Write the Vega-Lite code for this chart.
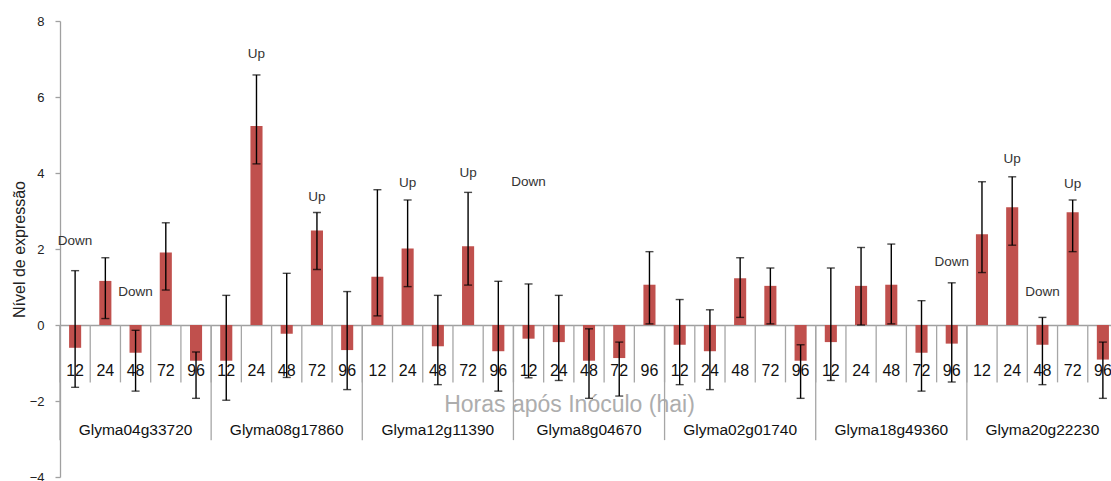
{
  "$schema": "https://vega.github.io/schema/vega-lite/v6.json",
  "width": 1051,
  "height": 456,
  "autosize": {"type": "none"},
  "padding": {"left": 60, "top": 21, "right": 0, "bottom": 4},
  "background": "white",
  "config": {"view": {"stroke": null}, "font": "Liberation Sans"},
  "data": {
    "values": [
      {"gene": "Glyma04g33720", "hour": "12", "value": -0.60, "lo": -1.64, "hi": 1.43, "note": "Down", "level": 2.21},
      {"gene": "Glyma04g33720", "hour": "24", "value": 1.16, "lo": 0.17, "hi": 1.77},
      {"gene": "Glyma04g33720", "hour": "48", "value": -0.73, "lo": -1.74, "hi": -0.14, "note": "Down", "level": 0.88},
      {"gene": "Glyma04g33720", "hour": "72", "value": 1.91, "lo": 0.92, "hi": 2.69},
      {"gene": "Glyma04g33720", "hour": "96", "value": -0.94, "lo": -1.93, "hi": -0.71},
      {"gene": "Glyma08g17860", "hour": "12", "value": -0.94, "lo": -1.98, "hi": 0.78},
      {"gene": "Glyma08g17860", "hour": "24", "value": 5.24, "lo": 4.24, "hi": 6.58, "note": "Up", "level": 7.14},
      {"gene": "Glyma08g17860", "hour": "48", "value": -0.23, "lo": -1.38, "hi": 1.36},
      {"gene": "Glyma08g17860", "hour": "72", "value": 2.49, "lo": 1.46, "hi": 2.96, "note": "Up", "level": 3.36},
      {"gene": "Glyma08g17860", "hour": "96", "value": -0.66, "lo": -1.70, "hi": 0.88},
      {"gene": "Glyma12g11390", "hour": "12", "value": 1.27, "lo": 0.24, "hi": 3.56},
      {"gene": "Glyma12g11390", "hour": "24", "value": 2.01, "lo": 1.01, "hi": 3.29, "note": "Up", "level": 3.74},
      {"gene": "Glyma12g11390", "hour": "48", "value": -0.56, "lo": -1.57, "hi": 0.78},
      {"gene": "Glyma12g11390", "hour": "72", "value": 2.07, "lo": 1.05, "hi": 3.49, "note": "Up", "level": 4.0},
      {"gene": "Glyma12g11390", "hour": "96", "value": -0.69, "lo": -1.74, "hi": 1.15},
      {"gene": "Glyma8g04670", "hour": "12", "value": -0.36, "lo": -1.39, "hi": 1.08, "note": "Down", "level": 3.77},
      {"gene": "Glyma8g04670", "hour": "24", "value": -0.45, "lo": -1.46, "hi": 0.78},
      {"gene": "Glyma8g04670", "hour": "48", "value": -0.94, "lo": -1.93, "hi": -0.10},
      {"gene": "Glyma8g04670", "hour": "72", "value": -0.87, "lo": -1.87, "hi": -0.45},
      {"gene": "Glyma8g04670", "hour": "96", "value": 1.06, "lo": 0.03, "hi": 1.93},
      {"gene": "Glyma02g01740", "hour": "12", "value": -0.52, "lo": -1.57, "hi": 0.67},
      {"gene": "Glyma02g01740", "hour": "24", "value": -0.69, "lo": -1.70, "hi": 0.40},
      {"gene": "Glyma02g01740", "hour": "48", "value": 1.23, "lo": 0.20, "hi": 1.77},
      {"gene": "Glyma02g01740", "hour": "72", "value": 1.03, "lo": 0.03, "hi": 1.50},
      {"gene": "Glyma02g01740", "hour": "96", "value": -0.94, "lo": -1.93, "hi": -0.52},
      {"gene": "Glyma18g49360", "hour": "12", "value": -0.45, "lo": -1.46, "hi": 1.50},
      {"gene": "Glyma18g49360", "hour": "24", "value": 1.03, "lo": 0.00, "hi": 2.04},
      {"gene": "Glyma18g49360", "hour": "48", "value": 1.06, "lo": 0.03, "hi": 2.13},
      {"gene": "Glyma18g49360", "hour": "72", "value": -0.73, "lo": -1.74, "hi": 0.64},
      {"gene": "Glyma18g49360", "hour": "96", "value": -0.49, "lo": -1.50, "hi": 1.11, "note": "Down", "level": 1.66},
      {"gene": "Glyma20g22230", "hour": "12", "value": 2.39, "lo": 1.38, "hi": 3.77},
      {"gene": "Glyma20g22230", "hour": "24", "value": 3.10, "lo": 2.10, "hi": 3.90, "note": "Up", "level": 4.38},
      {"gene": "Glyma20g22230", "hour": "48", "value": -0.52, "lo": -1.57, "hi": 0.20, "note": "Down", "level": 0.88},
      {"gene": "Glyma20g22230", "hour": "72", "value": 2.97, "lo": 1.93, "hi": 3.29, "note": "Up", "level": 3.71},
      {"gene": "Glyma20g22230", "hour": "96", "value": -0.91, "lo": -1.93, "hi": -0.45}
    ]
  },
  "transform": [{"calculate": "datum.gene + ' ' + datum.hour", "as": "slot"}],
  "encoding": {
    "x": {
      "field": "slot",
      "type": "nominal",
      "sort": null,
      "scale": {
        "domain": [
          "Glyma04g33720 12", "Glyma04g33720 24", "Glyma04g33720 48", "Glyma04g33720 72", "Glyma04g33720 96",
          "Glyma08g17860 12", "Glyma08g17860 24", "Glyma08g17860 48", "Glyma08g17860 72", "Glyma08g17860 96",
          "Glyma12g11390 12", "Glyma12g11390 24", "Glyma12g11390 48", "Glyma12g11390 72", "Glyma12g11390 96",
          "Glyma8g04670 12", "Glyma8g04670 24", "Glyma8g04670 48", "Glyma8g04670 72", "Glyma8g04670 96",
          "Glyma02g01740 12", "Glyma02g01740 24", "Glyma02g01740 48", "Glyma02g01740 72", "Glyma02g01740 96",
          "Glyma18g49360 12", "Glyma18g49360 24", "Glyma18g49360 48", "Glyma18g49360 72", "Glyma18g49360 96",
          "Glyma20g22230 12", "Glyma20g22230 24", "Glyma20g22230 48", "Glyma20g22230 72", "Glyma20g22230 96"
        ],
        "range": [0, 1058],
        "paddingInner": 0,
        "paddingOuter": 0
      },
      "axis": {
        "title": "Horas após Inóculo (hai)",
        "labels": false,
        "ticks": false,
        "domain": false,
        "titleFont": "Liberation Sans",
        "titleFontSize": 23,
        "titleFontWeight": "normal",
        "titleColor": "#adadad",
        "titleX": 509,
        "titleY": -73,
        "titleAlign": "center",
        "titleBaseline": "middle"
      }
    }
  },
  "layer": [
    {
      "mark": {"type": "bar", "color": "#C0504D", "width": {"band": 0.4}},
      "encoding": {
        "y": {
          "field": "value",
          "type": "quantitative",
          "title": "Nível de expressão",
          "scale": {"domain": [-4, 8], "nice": false, "zero": false},
          "axis": {
            "values": [-4, -2, 0, 2, 4, 6, 8],
            "grid": true,
            "gridColor": "#a0a0a0",
            "gridWidth": 1.3,
            "gridOpacity": {"condition": {"test": "datum.value === 0", "value": 1}, "value": 0},
            "domainColor": "#a0a0a0",
            "domainWidth": 1.3,
            "tickColor": "#a0a0a0",
            "tickWidth": 1.3,
            "tickSize": 5,
            "labelPadding": 11,
            "labelFont": "Liberation Sans",
            "labelFontSize": 13,
            "labelColor": "#222222",
            "titleFont": "Liberation Sans",
            "titleFontSize": 16,
            "titleFontWeight": "normal",
            "titleColor": "#222222",
            "titlePadding": 2
          }
        }
      }
    },
    {
      "mark": {"type": "rule", "color": "#a6a6a6", "strokeWidth": 1.3},
      "encoding": {
        "x": {"field": "slot", "type": "nominal", "sort": null, "bandPosition": 0},
        "y": {"datum": 0, "title": "Nível de expressão"},
        "y2": {"datum": -1.51}
      }
    },
    {
      "transform": [{"filter": "datum.hour == '12'"}],
      "mark": {"type": "rule", "color": "#a6a6a6", "strokeWidth": 1.3},
      "encoding": {
        "x": {"field": "slot", "type": "nominal", "sort": null, "bandPosition": 0},
        "y": {"datum": 0, "title": "Nível de expressão"},
        "y2": {"datum": -3.03}
      }
    },
    {
      "mark": {"type": "rule", "color": "#000000", "strokeWidth": 1.4},
      "encoding": {
        "y": {"field": "lo", "type": "quantitative", "title": "Nível de expressão"},
        "y2": {"field": "hi"}
      }
    },
    {
      "mark": {"type": "tick", "color": "#000000", "size": 8, "thickness": 1.4},
      "encoding": {"y": {"field": "lo", "type": "quantitative", "title": "Nível de expressão"}}
    },
    {
      "mark": {"type": "tick", "color": "#000000", "size": 8, "thickness": 1.4},
      "encoding": {"y": {"field": "hi", "type": "quantitative", "title": "Nível de expressão"}}
    },
    {
      "mark": {"type": "text", "font": "Liberation Sans", "fontSize": 16, "color": "#111111", "baseline": "middle"},
      "encoding": {
        "y": {"datum": -1.22, "title": "Nível de expressão"},
        "text": {"field": "hour"}
      }
    },
    {
      "transform": [{"filter": "datum.hour == '48'"}],
      "mark": {"type": "text", "font": "Liberation Sans", "fontSize": 15.5, "color": "#111111", "baseline": "middle"},
      "encoding": {
        "y": {"datum": -2.75, "title": "Nível de expressão"},
        "text": {"field": "gene"}
      }
    },
    {
      "transform": [{"filter": "datum.note != null"}],
      "mark": {"type": "text", "font": "Liberation Sans", "fontSize": 13.5, "color": "#333333", "baseline": "middle"},
      "encoding": {
        "y": {"field": "level", "type": "quantitative", "title": "Nível de expressão"},
        "text": {"field": "note"}
      }
    }
  ]
}
